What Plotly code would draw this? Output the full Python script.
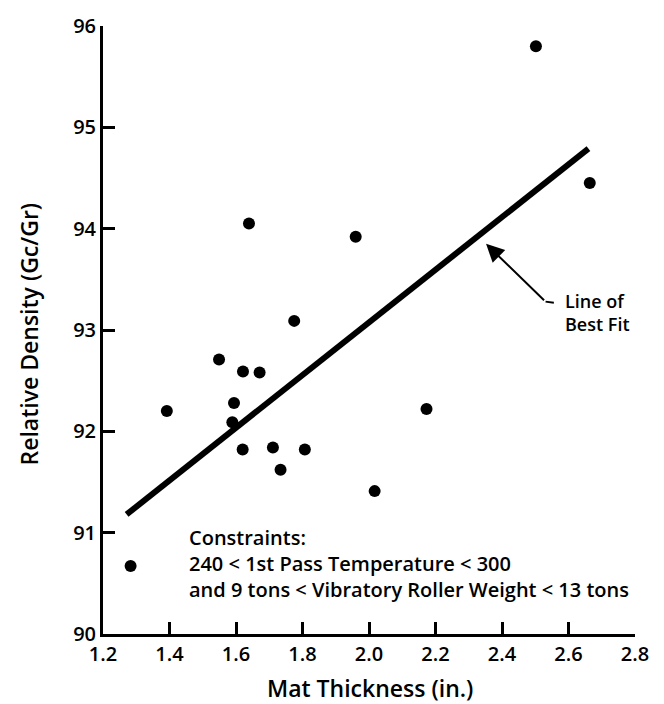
import plotly.graph_objects as go

# Data
mat_thickness = [1.283, 1.392, 1.639, 1.960, 1.775, 1.549, 1.621, 1.671, 1.594, 1.589,
                 2.173, 1.620, 1.711, 1.807, 1.734, 2.017, 2.502, 2.664]
relative_density = [90.67, 92.20, 94.05, 93.92, 93.09, 92.71, 92.59, 92.58, 92.28, 92.09,
                    92.22, 91.82, 91.84, 91.82, 91.62, 91.41, 95.80, 94.45]
fit_x = [1.271, 2.660]
fit_y = [91.18, 94.79]
x_ticks = [1.2, 1.4, 1.6, 1.8, 2.0, 2.2, 2.4, 2.6, 2.8]
y_ticks = [90, 91, 92, 93, 94, 95, 96]
arrow_tip = (2.352, 93.85)
arrow_bend = (2.531, 93.28)
arrow_hook = (2.556, 93.27)

FONT = "Open Sans"
W = 600
fig = go.Figure()
fig.add_trace(go.Scatter(x=fit_x, y=fit_y, mode="lines",
                         line=dict(color="black", width=6), hoverinfo="skip"))
fig.add_trace(go.Scatter(x=mat_thickness, y=relative_density, mode="markers",
                         marker=dict(color="black", size=12, line=dict(width=0)),
                         hoverinfo="skip"))

axis_common = dict(showline=True, linewidth=3, linecolor="black", ticks="inside",
                   ticklen=12, tickwidth=3, tickcolor="black", showgrid=False,
                   zeroline=False, mirror=False,
                   tickfont=dict(family=FONT, size=20, color="black", weight=W))
fig.update_xaxes(range=[1.2, 2.8], tickvals=x_ticks,
                 ticktext=[f"{v:.1f}" for v in x_ticks], **axis_common)
fig.update_yaxes(range=[90, 96], tickvals=y_ticks,
                 ticktext=[str(v) for v in y_ticks], **axis_common)

annotations = [
    dict(text="Mat Thickness (in.)", xref="paper", yref="paper", x=0.501, y=-0.089,
         xanchor="center", yanchor="middle", showarrow=False,
         font=dict(family=FONT, size=23, color="black", weight=W)),
    dict(text="Relative Density (Gc/Gr)", xref="paper", yref="paper", x=-0.139, y=0.4926,
         xanchor="center", yanchor="middle", showarrow=False, textangle=-90,
         font=dict(family=FONT, size=23, color="black", weight=W)),
    dict(text="Constraints:<br>240 < 1st Pass Temperature < 300<br>and 9 tons < Vibratory Roller Weight < 13 tons",
         xref="paper", yref="paper", x=0.158, y=0.1164, xanchor="left", yanchor="middle",
         align="left", showarrow=False, font=dict(family=FONT, size=20, color="black", weight=W)),
    dict(text="Line of<br>Best Fit", xref="paper", yref="paper", x=0.8647, y=0.528,
         xanchor="left", yanchor="middle", align="left", showarrow=False,
         font=dict(family=FONT, size=18, color="black", weight=W)),
    dict(text="", x=arrow_tip[0], y=arrow_tip[1], xref="x", yref="y",
         ax=arrow_bend[0], ay=arrow_bend[1], axref="x", ayref="y",
         showarrow=True, arrowhead=2, arrowsize=1.8, arrowwidth=2, arrowcolor="black"),
]

fig.update_layout(
    width=664, height=704,
    margin=dict(l=103, r=29, t=24, b=70),
    paper_bgcolor="white", plot_bgcolor="white",
    showlegend=False,
    annotations=annotations,
    shapes=[dict(type="line", xref="x", yref="y", x0=arrow_bend[0], y0=arrow_bend[1],
                 x1=arrow_hook[0], y1=arrow_hook[1], line=dict(color="black", width=2))],
)

fig.write_html("out.html")
